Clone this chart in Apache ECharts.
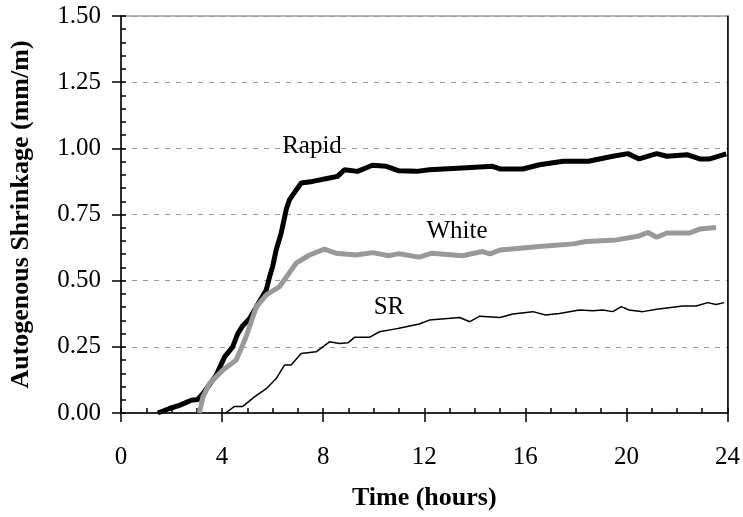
<!DOCTYPE html>
<html>
<head>
<meta charset="utf-8">
<script src="https://cdn.jsdelivr.net/npm/echarts@6/dist/echarts.min.js"></script>
<style>
  html, body { margin: 0; padding: 0; background: #fff; }
  #chart { width: 743px; height: 517px; }
</style>
</head>
<body>
<div id="chart"></div>
<script>
'use strict';

// 数据（小时, mm/m）
var rapidTime = [1.46, 1.92, 2.31, 2.78, 3.04, 3.24, 3.77, 4.1, 4.42, 4.62, 4.82, 5.09, 5.35, 5.75, 5.88, 6.0, 6.14, 6.34, 6.54, 6.67, 7.13, 7.58, 8.25, 8.57, 8.84, 9.36, 9.95, 10.5, 11.0, 11.7, 12.2, 13.5, 14.7, 15.0, 15.9, 16.56, 17.5, 18.5, 19.46, 20.06, 20.5, 21.2, 21.6, 22.4, 22.9, 23.3, 23.95];
var rapidValue = [0, 0.017, 0.029, 0.048, 0.051, 0.073, 0.143, 0.212, 0.25, 0.30, 0.33, 0.357, 0.40, 0.465, 0.515, 0.553, 0.616, 0.68, 0.77, 0.806, 0.869, 0.875, 0.888, 0.894, 0.919, 0.913, 0.936, 0.932, 0.915, 0.913, 0.919, 0.926, 0.932, 0.922, 0.922, 0.938, 0.951, 0.951, 0.97, 0.98, 0.96, 0.98, 0.97, 0.976, 0.96, 0.96, 0.979];

var whiteTime = [3.1, 3.24, 3.5, 4.03, 4.56, 4.95, 5.35, 5.75, 6.27, 6.93, 7.46, 8.05, 8.5, 9.3, 9.96, 10.6, 11.0, 11.8, 12.3, 13.5, 14.3, 14.6, 15.0, 16.56, 17.9, 18.4, 19.6, 20.5, 20.85, 21.2, 21.6, 22.5, 22.9, 23.55];
var whiteValue = [0, 0.06, 0.111, 0.162, 0.2, 0.288, 0.40, 0.446, 0.477, 0.566, 0.597, 0.619, 0.604, 0.597, 0.606, 0.594, 0.602, 0.589, 0.604, 0.594, 0.61, 0.601, 0.616, 0.629, 0.639, 0.648, 0.654, 0.669, 0.682, 0.664, 0.68, 0.68, 0.695, 0.701];

var srTime = [4.14, 4.49, 4.82, 5.28, 5.75, 6.14, 6.47, 6.73, 7.13, 7.72, 8.25, 8.65, 8.98, 9.24, 9.83, 10.23, 10.76, 11.0, 11.8, 12.2, 13.4, 13.8, 14.2, 15.0, 15.5, 16.3, 16.8, 17.35, 18.14, 18.67, 19.07, 19.46, 19.8, 20.1, 20.65, 21.2, 22.23, 22.76, 23.22, 23.55, 23.87];
var srValue = [0, 0.025, 0.025, 0.061, 0.092, 0.13, 0.181, 0.181, 0.225, 0.231, 0.269, 0.263, 0.265, 0.286, 0.286, 0.307, 0.316, 0.32, 0.336, 0.351, 0.361, 0.345, 0.366, 0.361, 0.374, 0.383, 0.37, 0.376, 0.389, 0.386, 0.389, 0.383, 0.402, 0.389, 0.383, 0.392, 0.404, 0.404, 0.417, 0.41, 0.417];

var seriesNames = ['Rapid', 'White', 'SR'];

function zip(t, v) {
    var out = [];
    for (var i = 0; i < t.length; i++) {
        out.push([t[i], v[i]]);
    }
    return out;
}

var FONT = '"Liberation Serif", "Times New Roman", serif';

// 曲线旁的文字标注
function lineLabel(text, x, y) {
    return {
        type: 'text', x: x, y: y, z: 10,
        style: { text: text, fontFamily: FONT, fontSize: 25, fill: '#000', align: 'center', verticalAlign: 'top' }
    };
}

var chart = echarts.init(document.getElementById('chart'));

var option = {
    backgroundColor: '#fff',
    animation: false,
    grid: {
        left: 121, right: 15, top: 16, bottom: 104,
        show: true, borderColor: '#666', borderWidth: 1
    },
    xAxis: [{
        type: 'value', min: 0, max: 24, interval: 4,
        name: 'Time (hours)', nameLocation: 'middle', nameGap: 72,
        nameTextStyle: { fontFamily: FONT, fontWeight: 'bold', fontSize: 26, color: '#000' },
        axisLine: { lineStyle: { color: '#000', width: 1.5 } },
        axisTick: { length: 9, lineStyle: { color: '#000', width: 1.5 } },
        axisLabel: { fontFamily: FONT, fontSize: 25, color: '#000', margin: 32 },
        splitLine: { show: false }
    }, {
        type: 'value', min: 0, max: 24, interval: 1, position: 'bottom',
        axisLine: { show: false },
        axisTick: { inside: true, length: 5, lineStyle: { color: '#000', width: 1.5 } },
        axisLabel: { show: false },
        splitLine: { show: false }
    }],
    yAxis: [{
        type: 'value', min: 0, max: 1.5, interval: 0.25,
        name: 'Autogenous Shrinkage (mm/m)', nameLocation: 'middle', nameGap: 87,
        nameTextStyle: { fontFamily: FONT, fontWeight: 'bold', fontSize: 26, color: '#000' },
        axisLine: { show: true, lineStyle: { color: '#000', width: 1.5 } },
        axisTick: { show: true, length: 9, lineStyle: { color: '#000', width: 1.5 } },
        axisLabel: {
            fontFamily: FONT, fontSize: 25, color: '#000', margin: 20,
            formatter: function(v) { return v.toFixed(2); }
        },
        splitLine: { show: true, lineStyle: { color: '#999', type: [5, 6], width: 1 } }
    }, {
        type: 'value', min: 0, max: 1.5, interval: 0.05, position: 'left',
        axisLine: { show: false },
        axisTick: { show: true, inside: true, length: 5, lineStyle: { color: '#000', width: 1.5 } },
        axisLabel: { show: false },
        splitLine: { show: false }
    }, {
        type: 'value', min: 0, max: 1.5, position: 'right',
        axisLine: { show: true, lineStyle: { color: '#000', width: 1.5 } },
        axisTick: { show: false },
        axisLabel: { show: false },
        splitLine: { show: false }
    }],
    series: [{
        name: seriesNames[0], type: 'line', showSymbol: false,
        data: zip(rapidTime, rapidValue),
        lineStyle: { color: '#000', width: 5 }, z: 3
    }, {
        name: seriesNames[1], type: 'line', showSymbol: false,
        data: zip(whiteTime, whiteValue),
        lineStyle: { color: '#999', width: 5 }, z: 4
    }, {
        name: seriesNames[2], type: 'line', showSymbol: false,
        data: zip(srTime, srValue),
        lineStyle: { color: '#000', width: 1.5 }, z: 2
    }],
    graphic: [
        lineLabel(seriesNames[0], 312, 134),
        lineLabel(seriesNames[1], 457, 219),
        lineLabel(seriesNames[2], 389, 295)
    ]
};

chart.setOption(option);
</script>
</body>
</html>
